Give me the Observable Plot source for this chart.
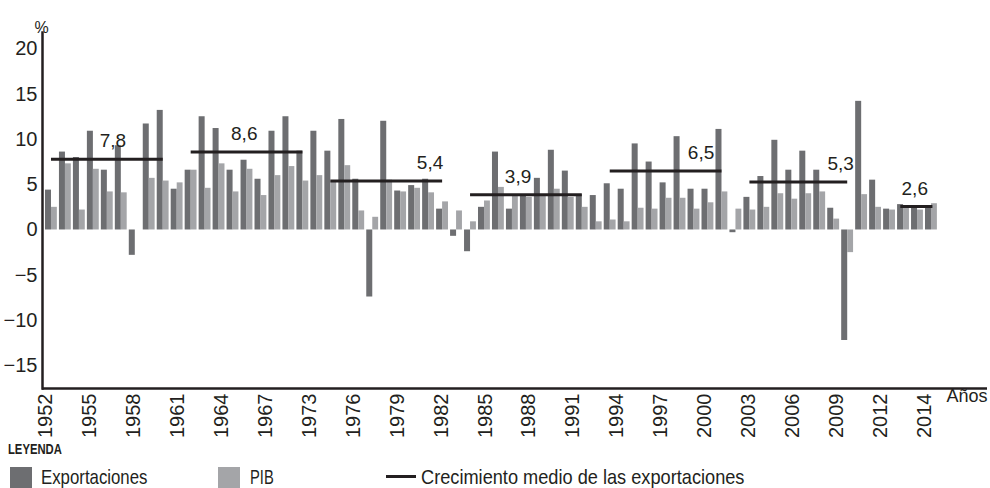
<!DOCTYPE html>
<html><head><meta charset="utf-8">
<script src="https://cdn.jsdelivr.net/npm/d3@7"></script>
<script src="https://cdn.jsdelivr.net/npm/@observablehq/plot@0.6"></script>
<style>
html,body{margin:0;padding:0;background:#fff;overflow:hidden;}
#wrap{position:relative;width:990px;height:488px;color:#231f20;}
#chart{position:absolute;left:0;top:0;}
.leg{position:absolute;white-space:nowrap;font-family:"Liberation Sans",Arial,sans-serif;font-size:21px;line-height:21px;transform-origin:0 50%;}
.ttl{font-weight:bold;font-size:15px;line-height:15px;}
.sw{position:absolute;width:22px;height:21px;}
.ln{position:absolute;height:3px;background:#231f20;}
</style></head><body><div id="wrap"><div id="chart"></div>
<div class="leg ttl" style="left:8px;top:441px;transform:scaleX(0.75);">LEYENDA</div>
<div class="sw" id="swExp" style="left:10px;top:467px;"></div>
<div class="leg" style="left:41px;top:466px;transform:scaleX(0.8);">Exportaciones</div>
<div class="sw" id="swPib" style="left:218px;top:467px;"></div>
<div class="leg" style="left:250px;top:466px;transform:scaleX(0.7);">PIB</div>
<div class="ln" style="left:386px;top:475px;width:30px;"></div>
<div class="leg" style="left:421px;top:466px;transform:scaleX(0.866);">Crecimiento medio de las exportaciones</div>
</div>
<script>
const years = [1952,1953,1954,1955,1956,1957,1958,1959,1960,1961,1962,1963,1964,1965,1966,1967,1968,1969,1970,1971,1972,1973,1974,1975,1976,1977,1978,1979,1980,1981,1982,1983,1984,1985,1986,1987,1988,1989,1990,1991,1992,1993,1994,1995,1996,1997,1998,1999,2000,2001,2002,2003,2004,2005,2006,2007,2008,2009,2010,2011,2012,2013,2014,2015];
const exportaciones = [4.4,8.6,8.0,10.9,6.6,9.3,-2.8,11.7,13.2,4.5,6.6,12.5,11.2,6.6,7.7,5.6,10.9,12.5,8.7,10.9,8.7,12.2,5.6,-7.4,12.0,4.3,4.9,5.6,2.3,-0.7,-2.4,2.5,8.6,2.3,3.9,5.7,8.8,6.5,3.9,3.8,5.1,4.5,9.5,7.5,5.2,10.3,4.5,4.5,11.1,-0.3,3.6,5.9,9.9,6.6,8.7,6.6,2.4,-12.2,14.2,5.5,2.3,2.8,2.4,2.4];
const pib = [2.5,7.3,2.2,6.7,4.2,4.1,0,5.7,5.4,5.2,6.6,4.6,7.3,4.2,6.7,3.8,6.0,7.0,5.4,6.0,5.4,7.1,2.1,1.4,5.5,4.2,4.6,4.1,3.1,2.1,0.9,3.2,4.7,3.9,3.6,3.9,4.5,3.6,2.5,0.9,1.1,0.9,2.4,2.3,3.5,3.5,2.3,3.0,4.2,2.3,2.2,2.5,4.0,3.4,4.0,4.2,1.2,-2.5,3.9,2.5,2.2,2.4,2.2,2.9];
const tickLabels = ["1952","1955","1958","1961","1964","1967","1973","1976","1979","1982","1985","1988","1991","1994","1997","2000","2003","2006","2009","2012","2014"];
const periodStart = [1952,1962,1972,1982,1992,2002,2012.8];
const periodEnd = [1960,1970,1980,1990,2000,2009,2015.1];
const periodMean = [7.8,8.6,5.4,3.9,6.5,5.3,2.6];
const periodLabelYear = [1956.9,1966.3,1979.6,1985.9,1999.0,2009.0,2014.3];
const yTicks = [-15,-10,-5,0,5,10,15,20];

const DARK = "#6d6e71", LIGHT = "#a4a5a8", INK = "#231f20";
document.getElementById("swExp").style.background = DARK;
document.getElementById("swPib").style.background = LIGHT;

const rows = years.map((year, i) => ({year, exp: exportaciones[i], pib: pib[i]}));
const periods = periodMean.map((m, i) => ({start: periodStart[i], end: periodEnd[i], mean: m, labelAt: periodLabelYear[i], label: m.toFixed(1).replace(".", ",")}));
const nLabelCats = (tickLabels.length - 1) * 3 + 1;
const span = years.length;
const ticks = tickLabels.map((t, k) => ({pos: years[0] + (3 * k + 0.5) * span / nLabelCats, label: t}));
const yDomain = [-17.5, 21.8];
const NUM = "Liberation Sans, Arial, sans-serif";

const chart = Plot.plot({
  width: 990, height: 440,
  marginLeft: 42, marginRight: 3, marginTop: 32, marginBottom: 52,
  style: {fontFamily: NUM, color: INK, background: "white", overflow: "visible"},
  x: {type: "linear", domain: [years[0], years[0] + span], range: [44, 938], axis: null},
  y: {domain: yDomain},
  marks: [
    Plot.rect(rows, {x1: d => d.year + 0.07, x2: d => d.year + 0.5, y1: d => 0, y2: "exp", fill: DARK}),
    Plot.rect(rows, {x1: d => d.year + 0.5, x2: d => d.year + 0.92, y1: d => 0, y2: "pib", fill: LIGHT}),
    Plot.ruleY(periods, {x1: d => d.start + 0.5, x2: d => d.end + 0.5, y: "mean", stroke: INK, strokeWidth: 3}),
    Plot.text(periods, {x: "labelAt", y: "mean", text: "label", dy: -18, fontSize: 19, fill: INK}),
    Plot.axisY(yTicks, {tickSize: 0, tickPadding: 5, fontSize: 20, label: null, fill: INK}),
    Plot.ruleY([yDomain[0]], {stroke: INK, strokeWidth: 2.5}),
    Plot.frame({anchor: "left", stroke: INK, strokeWidth: 2.5}),
    Plot.text(ticks, {x: "pos", text: "label", frameAnchor: "bottom", rotate: -90, textAnchor: "end", dy: 5, fontSize: 20, fill: INK}),
    Plot.text(["%"], {text: d => d, frameAnchor: "top-left", dx: -8, dy: -11, fontSize: 16, fill: INK}),
    Plot.text(["Años"], {text: d => d, frameAnchor: "bottom-right", textAnchor: "end", dy: 13, fontSize: 18, fill: INK})
  ]
});
document.getElementById("chart").appendChild(chart);
</script></body></html>
